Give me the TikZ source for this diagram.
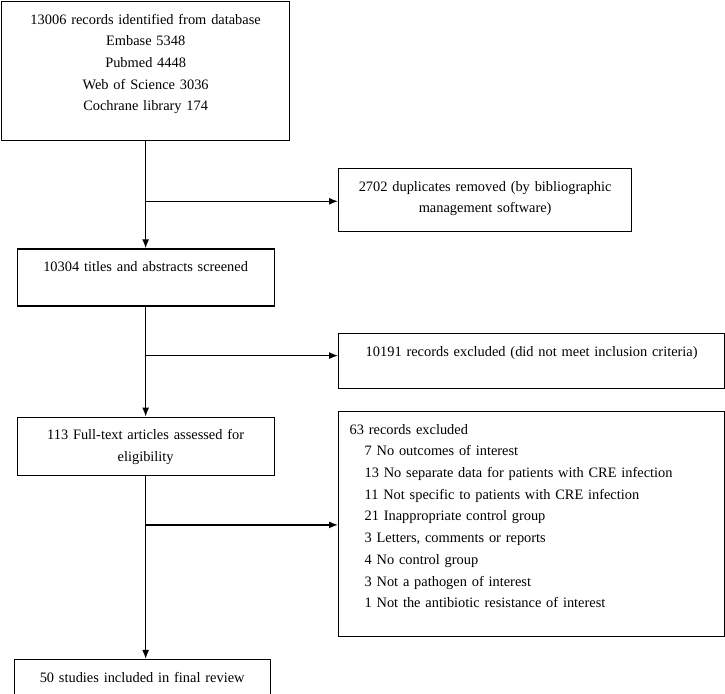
\documentclass[tikz,border=0pt]{standalone}
\usepackage{fontspec}
\setmainfont{Liberation Serif}
\usetikzlibrary{arrows.meta, positioning, calc}

\begin{document}
\begin{tikzpicture}[x=1pt, y=1pt, node distance=100pt]
    % Styles
    \tikzset{
        box/.style  = {rectangle, draw, line width=1.3pt, inner xsep=6pt, inner ysep=0pt, text height=22.5pt, align=center, font=\fontsize{14.4}{21.7}\selectfont},
        list/.style = {box, align=left, text width=364pt, inner xsep=11pt},
        line/.style = {draw, line width=1.3pt, -{Latex[length=9pt, width=7pt]}}
    }
    \useasboundingbox (0,0) rectangle (725,-693);

    % Colonne principale
    \node [box, anchor=north west, text width=276pt, text depth=116.5pt] (records) at (1,-1) {13006 records identified from database\\Embase 5348\\Pubmed 4448\\Web of Science 3036\\Cochrane library 174};
    \node [box, below=107pt of records, text width=245pt, text depth=34.5pt] (screened) {10304 titles and abstracts screened};
    \node [box, below=110pt of screened, text width=245pt, text depth=35.5pt] (fulltext) {113 Full-text articles assessed for\\eligibility};
    \node [box, below=183pt of fulltext, xshift=-3.5pt, text width=244pt, text depth=14.5pt] (included) {50 studies included in final review};

    % Exclusions
    \node [box, anchor=north west, text width=281pt, text depth=40.5pt] (duplicates) at (338,-168) {2702 duplicates removed (by bibliographic\\management software)};
    \node [box, anchor=north west, text width=374pt, text depth=32.5pt] (excluded1) at (338,-333) {10191 records excluded (did not meet inclusion criteria)};
    \node [list, anchor=north west, text depth=202.5pt] (excluded2) at (338,-411) {63 records excluded\\
        \hspace*{15pt}7 No outcomes of interest\\
        \hspace*{15pt}13 No separate data for patients with CRE infection\\
        \hspace*{15pt}11 Not specific to patients with CRE infection\\
        \hspace*{15pt}21 Inappropriate control group\\
        \hspace*{15pt}3 Letters, comments or reports\\
        \hspace*{15pt}4 No control group\\
        \hspace*{15pt}3 Not a pathogen of interest\\
        \hspace*{15pt}1 Not the antibiotic resistance of interest};

    % Connexions
    \path (records.south) ++(0,-60) coordinate (split1);
    \path (screened.south) ++(0,-49) coordinate (split2);
    \path (fulltext.south) ++(0,-49) coordinate (split3);

    \path [line] (records) -- (screened);
    \path [line] (screened) -- (fulltext);
    \path [line] (fulltext) -- (fulltext.south |- included.north);

    \path [line] (split1) -- (split1 -| duplicates.west);
    \path [line] (split2) -- (split2 -| excluded1.west);
    \path [line] (split3) -- (split3 -| excluded2.west);
\end{tikzpicture}
\end{document}
